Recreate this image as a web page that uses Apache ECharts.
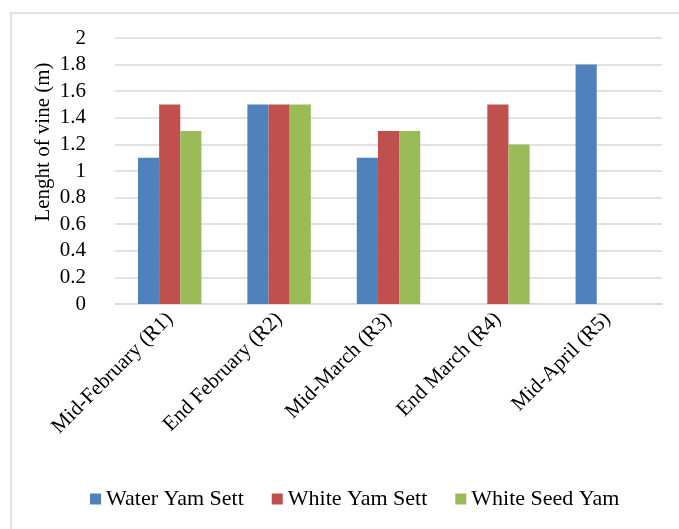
<!DOCTYPE html>
<html>
<head>
<meta charset="utf-8">
<script src="https://cdn.jsdelivr.net/npm/echarts@6/dist/echarts.min.js"></script>
<style>
html,body{margin:0;padding:0;background:#fff;}
#chart{width:679px;height:529px;}
</style>
</head>
<body>
<div id="chart"></div>
<script>
var categories = ['Mid-February (R1)', 'End February (R2)', 'Mid-March (R3)', 'End March (R4)', 'Mid-April (R5)'];
var waterYamSett = [1.1, 1.5, 1.1, null, 1.8];
var whiteYamSett = [1.5, 1.5, 1.3, 1.5, null];
var whiteSeedYam = [1.3, 1.5, 1.3, 1.2, null];
var seriesNames = ['Water Yam Sett', 'White Yam Sett', 'White Seed Yam'];
var yAxisTitle = 'Lenght of vine (m)';

var FONT = '"Liberation Serif", "Times New Roman", serif';
var chart = echarts.init(document.getElementById('chart'), null, {renderer: 'canvas'});
chart.setOption({
  animation: false,
  color: ['#4F81BD', '#C0504D', '#9BBB59'],
  textStyle: {fontFamily: FONT, color: '#000'},
  graphic: [
    {type: 'rect', shape: {x: 11, y: 13, width: 800, height: 700},
     style: {fill: 'none', stroke: '#d9d9d9', lineWidth: 1.5}, silent: true},
    {type: 'text', x: 43, y: 142, rotation: Math.PI / 2,
     style: {text: yAxisTitle, font: '21px ' + FONT, fill: '#000',
             align: 'center', verticalAlign: 'middle'}}
  ],
  grid: {left: 115, top: 38, right: 17, bottom: 225, containLabel: false},
  legend: {
    data: seriesNames,
    left: 90, top: 488,
    padding: 0,
    itemWidth: 11, itemHeight: 11, itemGap: 28,
    icon: 'rect',
    textStyle: {fontFamily: FONT, fontSize: 22, color: '#000'}
  },
  xAxis: {
    type: 'category',
    data: categories,
    axisLine: {lineStyle: {color: '#d9d9d9', width: 1.5}},
    axisTick: {show: false},
    axisLabel: {rotate: 45, interval: 0, margin: 12, fontFamily: FONT, fontSize: 21, color: '#000'}
  },
  yAxis: {
    type: 'value',
    min: 0, max: 2, interval: 0.2,
    axisLine: {show: false},
    axisTick: {show: false},
    axisLabel: {margin: 29, fontFamily: FONT, fontSize: 21, color: '#000'},
    splitLine: {lineStyle: {color: '#d9d9d9', width: 1.5}}
  },
  series: [
    {name: seriesNames[0], type: 'bar', data: waterYamSett, barGap: '0%', barCategoryGap: '42%'},
    {name: seriesNames[1], type: 'bar', data: whiteYamSett, barGap: '0%', barCategoryGap: '42%'},
    {name: seriesNames[2], type: 'bar', data: whiteSeedYam, barGap: '0%', barCategoryGap: '42%'}
  ]
});
</script>
</body>
</html>
